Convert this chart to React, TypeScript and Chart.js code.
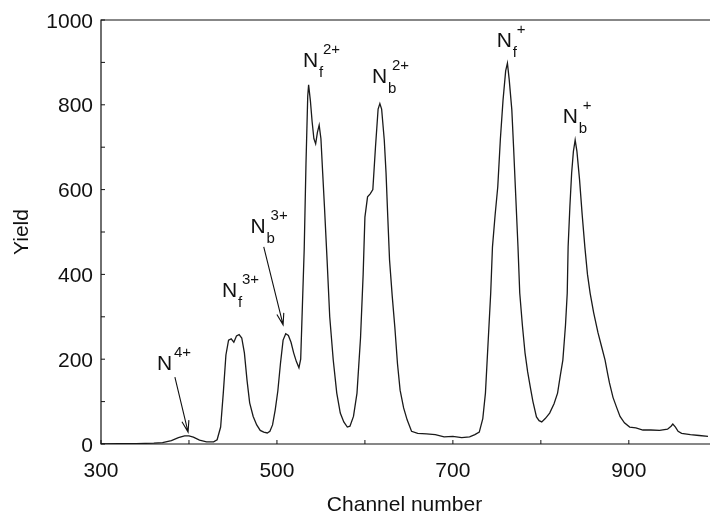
import React, { useEffect, useRef } from "react";
import { Chart, registerables } from "chart.js";
Chart.register(...registerables);

// Channel number (x) and yield (y)
const channel = [
  300, 320, 340, 360, 370, 380, 388, 395, 400, 405, 412, 420, 428, 432, 436, 439, 442, 445, 448, 451,
  454, 457, 460, 463, 466, 469, 473, 477, 481, 485, 489, 492, 495, 498, 501, 504, 507, 510, 513, 516,
  519, 522, 525, 527, 529, 531, 533, 535, 536, 538, 540, 542, 544, 546, 548, 550, 552, 554, 557, 560,
  564, 568, 572, 576, 580, 583, 587, 591, 595, 598, 600, 603, 606, 609, 612, 615, 617, 619, 622, 624,
  626, 628, 631, 634, 637, 640, 644, 648, 653, 660, 670, 680, 690, 700, 710, 719, 725, 730, 734, 737,
  740, 743, 745, 748, 751, 754, 757, 760, 762, 764, 767, 769, 771, 774, 776, 779, 782, 785, 788, 791,
  795, 798, 801, 805, 810, 815, 819, 822, 825, 828, 830, 831, 833, 835, 837, 839, 841, 844, 847, 850,
  853, 856, 860, 865, 869, 873, 876, 878, 882, 886, 890, 895, 901, 908, 916, 925, 935, 944, 948, 950,
  953, 956, 960, 970, 980, 990,
];
const yieldVals = [
  0, 1, 1, 2, 3, 8, 15, 19, 19, 16, 9, 5, 5, 10, 40, 120, 210, 245, 248, 240,
  255, 258, 250, 215, 150, 97, 65, 45, 32, 28, 26, 30, 45, 80, 125, 190, 245, 260, 256, 240,
  215, 195, 180, 200, 330, 460, 660, 820, 847, 810, 760, 720, 708, 735, 752, 720, 639, 560, 434, 300,
  198, 120, 73, 52, 40, 42, 65, 120, 250, 400, 535, 583, 590, 600, 700, 790, 803, 790, 717, 640,
  535, 434, 350, 276, 190, 127, 85, 57, 30, 25, 24, 22, 17, 18, 15, 17, 22, 28, 60, 120,
  238, 356, 465, 540, 606, 720, 811, 880, 898, 860, 788, 700, 606, 465, 356, 280, 215, 170, 134, 100,
  64, 55, 52, 60, 73, 95, 120, 160, 198, 280, 356, 465, 560, 639, 690, 717, 690, 623, 540, 465,
  400, 356, 310, 262, 230, 198, 165, 144, 110, 87, 65, 50, 40, 38, 33, 33, 32, 35, 42, 47,
  40, 30, 25, 22, 20, 18,
];

const xTicks = [300, 500, 700, 900];
const yTicks = [0, 200, 400, 600, 800, 1000];
const xMinorTicks = [400, 600, 800];
const yMinorTicks = [100, 300, 500, 700, 900];

// Peak labels: N with subscript / superscript, anchored at data coords
const ionSub = ["", "f", "b", "f", "b", "f", "b"];
const ionSup = ["4+", "3+", "3+", "2+", "2+", "+", "+"];
const ionX = [363.6, 437.5, 470, 529.5, 608, 750, 825];
const ionY = [174.5, 347, 498, 889, 851, 936, 757];

// Arrows (from label to peak)
const arrowFromX = [384, 485];
const arrowFromY = [158, 465];
const arrowToX = [399, 507];
const arrowToY = [28, 281];

const FONT = '"Liberation Sans", Arial, Helvetica, sans-serif';

const decorPlugin = {
  id: "decor",
  afterDraw(chart: any) {
    const { ctx, chartArea: a, scales } = chart;
    const xs = scales.x;
    const ys = scales.y;
    ctx.save();
    ctx.strokeStyle = "#111";
    ctx.fillStyle = "#111";
    ctx.lineWidth = 1.2;
    // frame
    ctx.beginPath();
    ctx.moveTo(a.right + 2, a.top);
    ctx.lineTo(a.left, a.top);
    ctx.lineTo(a.left, a.bottom);
    ctx.lineTo(a.right + 2, a.bottom);
    ctx.stroke();
    // ticks (inward)
    ctx.lineWidth = 1;
    ctx.beginPath();
    [...yTicks, ...yMinorTicks].forEach((v) => {
      const py = ys.getPixelForValue(v);
      ctx.moveTo(a.left, py);
      ctx.lineTo(a.left + 4, py);
    });
    [...xTicks, ...xMinorTicks].forEach((v) => {
      const px = xs.getPixelForValue(v);
      ctx.moveTo(px, a.bottom);
      ctx.lineTo(px, a.bottom - 4);
    });
    ctx.stroke();

    // tick labels
    ctx.font = `21px ${FONT}`;
    ctx.textBaseline = "alphabetic";
    ctx.textAlign = "right";
    yTicks.forEach((v) => {
      ctx.fillText(String(v), a.left - 8, ys.getPixelForValue(v) + 7.5);
    });
    ctx.textAlign = "center";
    xTicks.forEach((v) => {
      ctx.fillText(String(v), xs.getPixelForValue(v), a.bottom + 33);
    });

    // axis titles
    ctx.font = `21px ${FONT}`;
    ctx.textAlign = "center";
    ctx.fillText("Channel number", (a.left + a.right) / 2, a.bottom + 67);
    ctx.save();
    ctx.translate(28, (a.top + a.bottom) / 2);
    ctx.rotate(-Math.PI / 2);
    ctx.fillText("Yield", 0, 0);
    ctx.restore();

    // peak labels
    ctx.textAlign = "left";
    ionX.forEach((xv, i) => {
      const px = xs.getPixelForValue(xv);
      const py = ys.getPixelForValue(ionY[i]);
      ctx.font = `21px ${FONT}`;
      ctx.fillText("N", px, py);
      ctx.font = `15px ${FONT}`;
      if (ionSub[i]) ctx.fillText(ionSub[i], px + 16, py + 10);
      ctx.fillText(ionSup[i], px + (ionSub[i] ? 20 : 17), py - 13);
    });

    // arrows
    ctx.lineWidth = 1.1;
    arrowFromX.forEach((xv, i) => {
      const x1 = xs.getPixelForValue(xv);
      const y1 = ys.getPixelForValue(arrowFromY[i]);
      const x2 = xs.getPixelForValue(arrowToX[i]);
      const y2 = ys.getPixelForValue(arrowToY[i]);
      const ang = Math.atan2(y2 - y1, x2 - x1);
      const hl = 12;
      const spread = 0.3;
      ctx.beginPath();
      ctx.moveTo(x1, y1);
      ctx.lineTo(x2, y2);
      ctx.moveTo(x2 - hl * Math.cos(ang - spread), y2 - hl * Math.sin(ang - spread));
      ctx.lineTo(x2, y2);
      ctx.lineTo(x2 - hl * Math.cos(ang + spread), y2 - hl * Math.sin(ang + spread));
      ctx.stroke();
    });
    ctx.restore();
  },
};

export default function App() {
  const ref = useRef<HTMLCanvasElement | null>(null);
  useEffect(() => {
    if (!ref.current) return;
    const chart = new Chart(ref.current, {
      type: "line",
      data: {
        datasets: [
          {
            data: channel.map((x, i) => ({ x, y: yieldVals[i] })),
            borderColor: "#1a1a1a",
            borderWidth: 1.3,
            pointRadius: 0,
            tension: 0,
            fill: false,
          },
        ],
      },
      options: {
        animation: false,
        responsive: false,
        devicePixelRatio: 1,
        layout: { padding: { left: 101, top: 20, right: 2, bottom: 73 } },
        plugins: { legend: { display: false }, tooltip: { enabled: false } },
        scales: {
          x: { type: "linear", min: 300, max: 990, display: false },
          y: { type: "linear", min: 0, max: 1000, display: false },
        },
      },
      plugins: [decorPlugin],
    });
    return () => chart.destroy();
  }, []);
  return (
    <div style={{ position: "fixed", left: 0, top: 0, width: 710, height: 517, background: "#fff" }}>
      <canvas ref={ref} width={710} height={517} style={{ display: "block" }} />
    </div>
  );
}
